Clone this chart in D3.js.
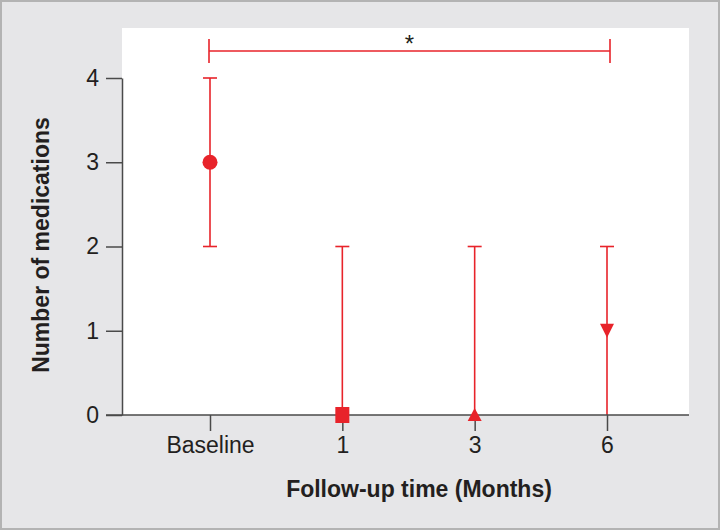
<!DOCTYPE html>
<html>
<head>
<meta charset="utf-8">
<script src="https://cdn.jsdelivr.net/npm/d3@7"></script>
<style>
  html, body { margin: 0; padding: 0; background: #fff; }
  svg { display: block; font-family: "Liberation Sans", Arial, Helvetica, sans-serif; }
</style>
</head>
<body>
<svg id="chart" width="720" height="530"></svg>
<script>
// ---- data ----
const categories = ["Baseline", "1", "3", "6"];
const medians = [3, 0, 0, 1];
const lowerBounds = [2, 0, 0, 0];
const upperBounds = [4, 2, 2, 2];
const markerShapes = ["circle", "square", "triangle", "triangleDown"];
const yTicks = [0, 1, 2, 3, 4];
const sigFrom = "Baseline";
const sigTo = "6";
const sigLabel = "*";
const xTitle = "Follow-up time (Months)";
const yTitle = "Number of medications";

// ---- layout ----
const W = 720, H = 530;
const plotLeft = 122, plotRight = 689, plotTop = 28, plotBottom = 415;
const red = "#e8232a";
const axisColor = "#4a4a4a";
const textColor = "#231f20";

const svg = d3.select("#chart");

// background
svg.append("rect").attr("x", 1).attr("y", 1).attr("width", W - 2).attr("height", H - 2)
  .attr("fill", "#e6e6e8").attr("stroke", "#b3b3b3").attr("stroke-width", 2);
svg.append("rect").attr("x", plotLeft).attr("y", plotTop)
  .attr("width", plotRight - plotLeft).attr("height", plotBottom - plotTop)
  .attr("fill", "#ffffff");

const x = d3.scalePoint().domain(categories).range([210, 607]);
const y = d3.scaleLinear().domain([0, 4]).range([plotBottom, 78]);

const rows = categories.map((c, i) => ({
  cat: c, med: medians[i], lo: lowerBounds[i], hi: upperBounds[i], shape: markerShapes[i]
}));

// error bars
const eb = svg.append("g").attr("stroke", red).attr("stroke-width", 1.6).attr("fill", "none");
rows.forEach(r => {
  const cx = x(r.cat);
  eb.append("line").attr("x1", cx).attr("x2", cx).attr("y1", y(r.lo)).attr("y2", y(r.hi));
  eb.append("line").attr("x1", cx - 7).attr("x2", cx + 7).attr("y1", y(r.hi)).attr("y2", y(r.hi));
  if (r.lo > 0) {
    eb.append("line").attr("x1", cx - 7).attr("x2", cx + 7).attr("y1", y(r.lo)).attr("y2", y(r.lo));
  }
});

// y axis
const yAxis = d3.axisLeft(y).tickValues(yTicks).tickFormat(d3.format("d"))
  .tickSize(16).tickSizeOuter(0).tickPadding(7);
const gy = svg.append("g").attr("transform", `translate(${plotLeft},0)`).call(yAxis);
gy.select(".domain").attr("stroke", axisColor).attr("stroke-width", 1.5);
gy.selectAll(".tick line").attr("stroke", axisColor).attr("stroke-width", 1.5);
gy.selectAll(".tick text").attr("fill", textColor).attr("font-size", 23)
  .attr("font-family", "Liberation Sans, Arial, sans-serif");

// x axis
const xAxis = d3.axisBottom(x).tickSize(16).tickSizeOuter(0).tickPadding(6);
const gx = svg.append("g").attr("transform", `translate(0,${plotBottom})`).call(xAxis);
gx.select(".domain").remove();
gx.insert("line", ":first-child").attr("x1", 106).attr("x2", plotRight).attr("y1", 0).attr("y2", 0)
  .attr("stroke", axisColor).attr("stroke-width", 1.5);
gx.selectAll(".tick line").attr("stroke", axisColor).attr("stroke-width", 1.5);
gx.selectAll(".tick text").attr("fill", textColor).attr("font-size", 23)
  .attr("font-family", "Liberation Sans, Arial, sans-serif");

// markers
const mk = svg.append("g").attr("fill", red);
rows.forEach(r => {
  const cx = x(r.cat), cy = y(r.med);
  if (r.shape === "circle") {
    mk.append("circle").attr("cx", cx).attr("cy", cy).attr("r", 7.5);
  } else if (r.shape === "square") {
    mk.append("rect").attr("x", cx - 7).attr("y", cy - 8).attr("width", 14).attr("height", 16);
  } else if (r.shape === "triangle") {
    mk.append("path").attr("d", `M${cx},${cy - 7}L${cx + 7},${cy + 6}L${cx - 7},${cy + 6}Z`);
  } else {
    mk.append("path").attr("d", `M${cx - 7},${cy - 7}L${cx + 7},${cy - 7}L${cx},${cy + 7}Z`);
  }
});

// significance bracket
const bx1 = x(sigFrom) - 1, bx2 = x(sigTo) + 3, by = 51;
const br = svg.append("g").attr("stroke", red).attr("stroke-width", 1.6);
br.append("line").attr("x1", bx1).attr("x2", bx2).attr("y1", by).attr("y2", by);
br.append("line").attr("x1", bx1).attr("x2", bx1).attr("y1", by - 12).attr("y2", by + 12);
br.append("line").attr("x1", bx2).attr("x2", bx2).attr("y1", by - 12).attr("y2", by + 12);
svg.append("text").attr("x", (bx1 + bx2) / 2).attr("y", 52).attr("text-anchor", "middle")
  .attr("font-size", 24).attr("fill", textColor).text(sigLabel);

// axis titles
svg.append("text").attr("x", 419).attr("y", 497).attr("text-anchor", "middle")
  .attr("font-size", 23).attr("font-weight", "bold").attr("fill", textColor).text(xTitle);
svg.append("text").attr("transform", "translate(49,245) rotate(-90)").attr("text-anchor", "middle")
  .attr("font-size", 23).attr("font-weight", "bold").attr("fill", textColor).text(yTitle);
</script>
</body>
</html>
